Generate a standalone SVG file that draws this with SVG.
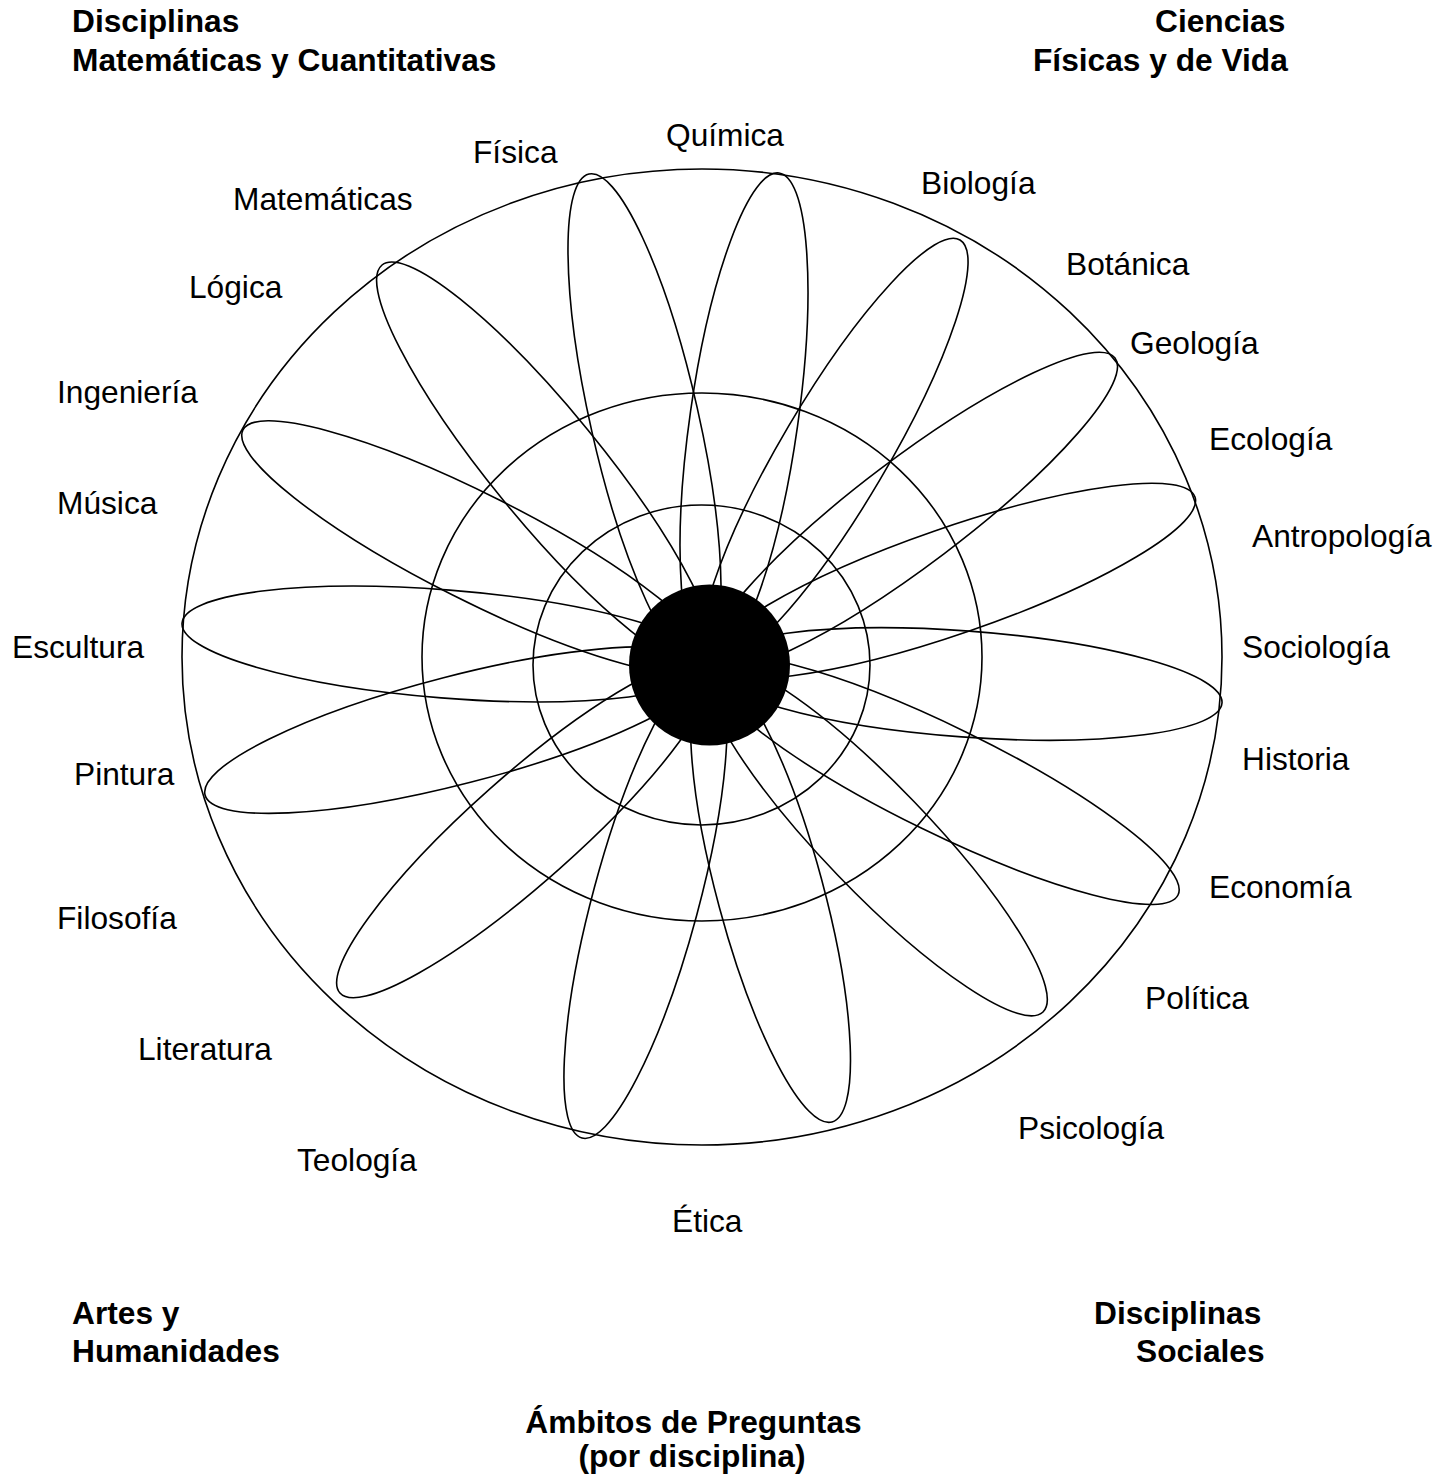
<svg xmlns="http://www.w3.org/2000/svg" width="1453" height="1477" viewBox="0 0 1453 1477">
<style>
.ln{fill:none;stroke:#000;stroke-width:1.6}
.lb{font-family:"Liberation Sans",Arial,sans-serif;font-size:31.7px;fill:#000}
.hd{font-family:"Liberation Sans",Arial,sans-serif;font-size:31.7px;font-weight:bold;fill:#000}
</style>
<rect width="1453" height="1477" fill="#fff"/>
<g id="rings">
<ellipse id="ring-outer" class="ln" cx="702" cy="657" rx="520" ry="488"/>
<ellipse id="ring-middle" class="ln" cx="702" cy="657" rx="280" ry="264"/>
<ellipse id="ring-inner" class="ln" cx="701.5" cy="665" rx="168.5" ry="160"/>
</g>
<g id="petals">
<g id="petal-fisica"><ellipse class="ln" cx="644.5" cy="419.5" rx="251.7" ry="54" transform="rotate(-102.74 644.5 419.5)"/></g>
<g id="petal-quimica"><ellipse class="ln" cx="744" cy="419" rx="248.5" ry="54" transform="rotate(-81.9 744 419)"/></g>
<g id="petal-biologia"><ellipse class="ln" cx="834.5" cy="452.5" rx="246.8" ry="53" transform="rotate(-59.43 834.5 452.5)"/></g>
<g id="petal-geologia"><ellipse class="ln" cx="912" cy="511.5" rx="254.5" ry="53" transform="rotate(-37.09 912 511.5)"/></g>
<g id="petal-ecologia"><ellipse class="ln" cx="952" cy="581" rx="257.1" ry="53" transform="rotate(-19.07 952 581)"/></g>
<g id="petal-sociologia"><ellipse class="ln" cx="965.5" cy="684" rx="257.2" ry="53" transform="rotate(4.24 965.5 684)"/></g>
<g id="petal-economia"><ellipse class="ln" cx="943.5" cy="780" rx="261.2" ry="53" transform="rotate(26.12 943.5 780)"/></g>
<g id="petal-politica"><ellipse class="ln" cx="876" cy="838.5" rx="240.8" ry="53" transform="rotate(46.09 876 838.5)"/></g>
<g id="petal-psicologia"><ellipse class="ln" cx="770.5" cy="893.5" rx="236.6" ry="53" transform="rotate(74.94 770.5 893.5)"/></g>
<g id="petal-teologia"><ellipse class="ln" cx="645.5" cy="901.5" rx="244.9" ry="53" transform="rotate(105.03 645.5 901.5)"/></g>
<g id="petal-literatura"><ellipse class="ln" cx="524.5" cy="829" rx="246.9" ry="53" transform="rotate(138.37 524.5 829)"/></g>
<g id="petal-pintura"><ellipse class="ln" cx="457" cy="730" rx="260.2" ry="54" transform="rotate(165.54 457 730)"/></g>
<g id="petal-escultura"><ellipse class="ln" cx="445.5" cy="644" rx="264.3" ry="54" transform="rotate(-175.44 445.5 644)"/></g>
<g id="petal-musica"><ellipse class="ln" cx="476" cy="547.5" rx="261" ry="53" transform="rotate(-153.24 476 547.5)"/></g>
<g id="petal-matematicas"><ellipse class="ln" cx="545.5" cy="465" rx="258.3" ry="55" transform="rotate(-129.26 545.5 465)"/></g>
</g>
<g id="hub"><circle cx="709.5" cy="665" r="80.5" fill="#000"/></g>
<g id="labels">
<text class="lb" x="666" y="146">Química</text>
<text class="lb" x="473" y="163">Física</text>
<text class="lb" x="233" y="210">Matemáticas</text>
<text class="lb" x="921" y="194">Biología</text>
<text class="lb" x="1066" y="275">Botánica</text>
<text class="lb" x="189" y="298">Lógica</text>
<text class="lb" x="1130" y="354">Geología</text>
<text class="lb" x="57" y="403">Ingeniería</text>
<text class="lb" x="1209" y="450">Ecología</text>
<text class="lb" x="57" y="514">Música</text>
<text class="lb" x="1252" y="547">Antropología</text>
<text class="lb" x="12" y="658">Escultura</text>
<text class="lb" x="1242" y="658">Sociología</text>
<text class="lb" x="1242" y="770">Historia</text>
<text class="lb" x="74" y="785">Pintura</text>
<text class="lb" x="1209" y="898">Economía</text>
<text class="lb" x="57" y="929">Filosofía</text>
<text class="lb" x="1145" y="1009">Política</text>
<text class="lb" x="138" y="1060">Literatura</text>
<text class="lb" x="1018" y="1139">Psicología</text>
<text class="lb" x="297" y="1171">Teología</text>
<text class="lb" x="672" y="1232">Ética</text>
</g>
<g id="headings">
<g id="head-mat"><text class="hd" x="72" y="32">Disciplinas</text><text class="hd" x="72" y="71">Matemáticas y Cuantitativas</text></g>
<g id="head-cien"><text class="hd" x="1155" y="32">Ciencias</text><text class="hd" x="1033" y="71">Físicas y de Vida</text></g>
<g id="head-artes"><text class="hd" x="72" y="1324">Artes y</text><text class="hd" x="72" y="1362">Humanidades</text></g>
<g id="head-soc"><text class="hd" x="1094" y="1324">Disciplinas</text><text class="hd" x="1136" y="1362">Sociales</text></g>
<g id="head-amb"><text class="hd" x="693.5" y="1433" text-anchor="middle">Ámbitos de Preguntas</text><text class="hd" x="692" y="1467" text-anchor="middle">(por disciplina)</text></g>
</g>
</svg>
